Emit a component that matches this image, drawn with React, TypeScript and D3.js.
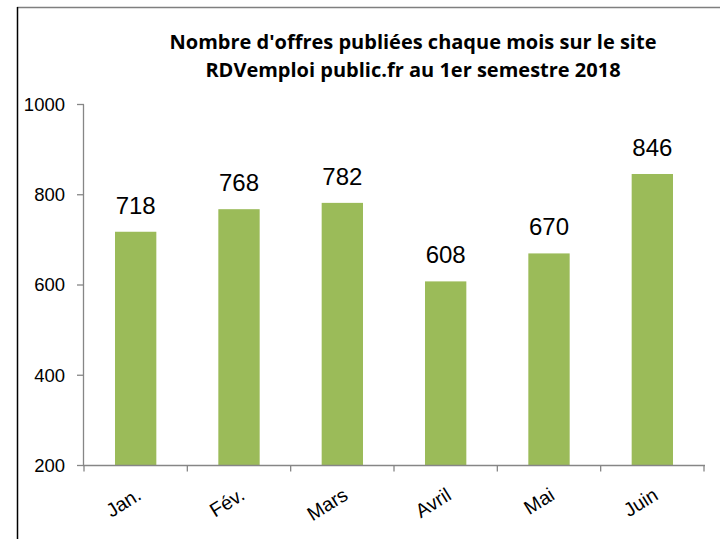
import React from "react";
import * as d3 from "d3";

const months = ["Jan.", "Fév.", "Mars", "Avril", "Mai", "Juin"];
const offres = [718, 768, 782, 608, 670, 846];
const yTicks = [200, 400, 600, 800, 1000];
const titleLines = [
  "Nombre d'offres publiées chaque mois sur le site",
  "RDVemploi public.fr au 1er semestre 2018",
];

const W = 720;
const H = 539;
const font = "'Liberation Sans', Arial, sans-serif";
const titleFont = "'Open Sans', sans-serif";
const axisColor = "#868686";
const barColor = "#9BBB59";

const App: React.FC = () => {
  const x = d3.scaleBand<string>().domain(months).range([84, 704]).paddingInner(0.6).paddingOuter(0.3);
  const xOuter = d3.scaleBand<string>().domain(months).range([84, 704]);
  const y = d3.scaleLinear().domain([200, 1000]).range([465.5, 104.5]);

  return (
    <svg width={W} height={H} style={{ position: "absolute", left: 0, top: 0, background: "#fff" }} fontFamily={font}>
      {/* frame */}
      <line x1={17} y1={7.5} x2={W} y2={7.5} stroke="#7f7f7f" strokeWidth={1.5} />
      <line x1={17.5} y1={7} x2={17.5} y2={H} stroke="#000" strokeWidth={1.5} />

      {/* title */}
      {titleLines.map((t, i) => (
        <text key={i} x={413} y={48.5 + i * 28.5} textAnchor="middle" fontFamily={titleFont} fontWeight="bold" fontSize={20} fill="#000">
          {t}
        </text>
      ))}

      {/* y axis */}
      <line x1={83.5} y1={y(1000)} x2={83.5} y2={y(200)} stroke={axisColor} strokeWidth={1.3} />
      {yTicks.map((t) => (
        <g key={t}>
          <line x1={77} x2={84} y1={y(t)} y2={y(t)} stroke={axisColor} strokeWidth={1.3} />
          <text x={65} y={y(t)} dy="0.35em" textAnchor="end" fontSize={18.5} fill="#000">
            {t}
          </text>
        </g>
      ))}

      {/* bars */}
      {months.map((m, i) => (
        <g key={m}>
          <rect x={x(m)} y={y(offres[i])} width={x.bandwidth()} height={y(200) - y(offres[i])} fill={barColor} />
          <text x={(x(m) as number) + x.bandwidth() / 2} y={y(offres[i]) - 18} textAnchor="middle" fontSize={24} fill="#000">
            {offres[i]}
          </text>
        </g>
      ))}

      {/* x axis */}
      <line x1={83} x2={705} y1={y(200)} y2={y(200)} stroke={axisColor} strokeWidth={1.3} />
      {[...months.map((m) => xOuter(m) as number), 704].map((px, i) => (
        <line key={i} x1={px} x2={px} y1={y(200)} y2={y(200) + 6} stroke={axisColor} strokeWidth={1.3} />
      ))}
      {months.map((m) => {
        const cx = (xOuter(m) as number) + xOuter.bandwidth() / 2;
        return (
          <text key={m} transform={`translate(${cx + 7},${y(200) + 33}) rotate(-32)`} textAnchor="end" fontSize={19.5} fill="#000">
            {m}
          </text>
        );
      })}
    </svg>
  );
};

export default App;
